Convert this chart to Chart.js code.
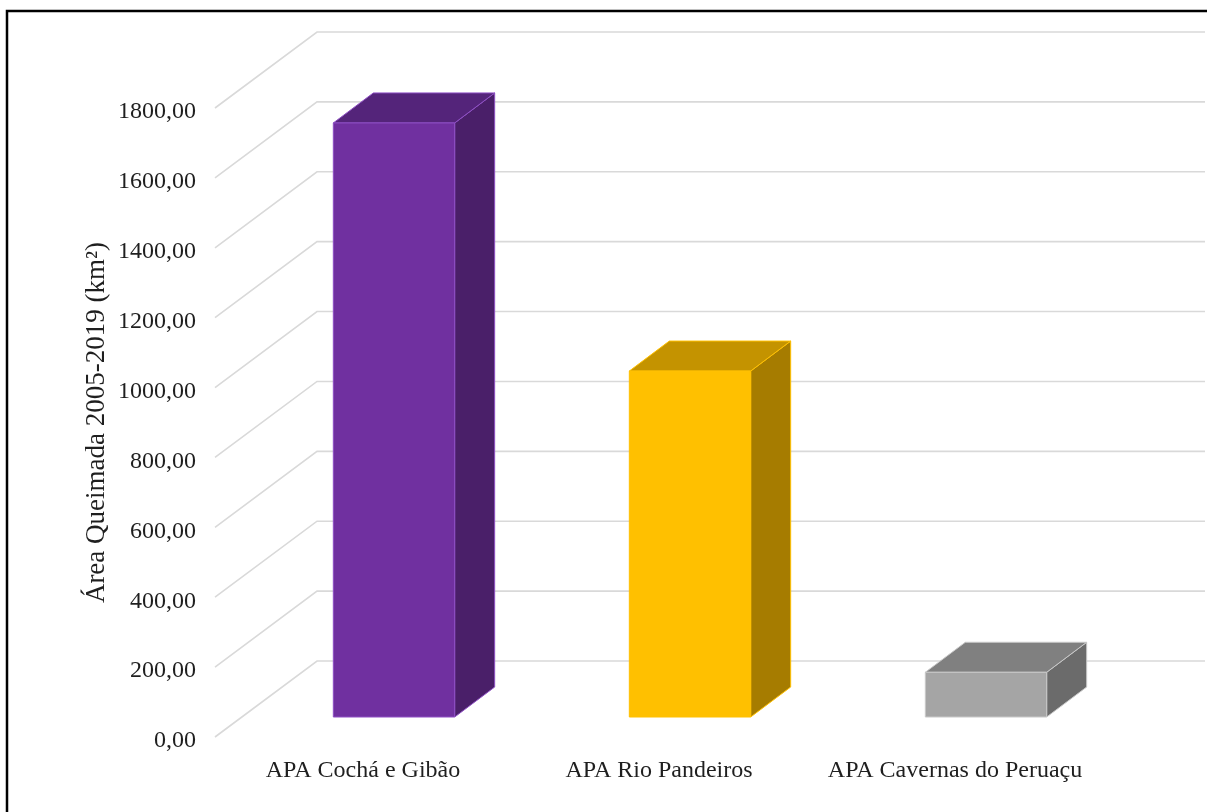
<!DOCTYPE html>
<html>
<head>
<meta charset="utf-8">
<script src="https://cdn.jsdelivr.net/npm/chart.js@4/dist/chart.umd.min.js"></script>
<style>
  body { margin: 0; background: #fff; }
  #wrap { width: 1207px; height: 812px; }
</style>
</head>
<body>
<div id="wrap"><canvas id="myChart" width="1207" height="812"></canvas></div>
<script>
// data
var categories = ['APA Cochá e Gibão', 'APA Rio Pandeiros', 'APA Cavernas do Peruaçu'];
var burnedArea = [1700, 990, 128];
var yTicks = [0, 200, 400, 600, 800, 1000, 1200, 1400, 1600, 1800];

// bar colours (front / top / side)
var frontColors = ['#7030A0', '#FFC000', '#A5A5A5'];
var topColors = ['#54247A', '#C49300', '#808080'];
var sideColors = ['#4A1F69', '#A67C00', '#6B6B6B'];
var edgeColors = ['#8E4FC4', '#FFC000', '#C8C8C8'];

// perspective of the 3d box
var DEPTH_X = 102, DEPTH_Y = -76;   // back wall offset
var FRONT_X = 31, FRONT_Y = -20;    // bar front face offset
var BAR_X = 40, BAR_Y = -30;        // bar depth

var frame = {
  id: 'frame',
  afterDraw: function (chart) {
    var ctx = chart.ctx;
    ctx.save();
    ctx.strokeStyle = '#000';
    ctx.lineWidth = 2.5;
    ctx.strokeRect(7, 11, 1230, 830);
    ctx.restore();
  }
};

var box3d = {
  id: 'box3d',
  beforeDatasetsDraw: function (chart) {
    var ctx = chart.ctx;
    var area = chart.chartArea;
    var y = chart.scales.y;
    ctx.save();

    // grid lines: floor diagonal + back wall
    ctx.strokeStyle = '#D9D9D9';
    ctx.lineWidth = 1.6;
    yTicks.forEach(function (v) {
      var py = y.getPixelForValue(v);
      ctx.beginPath();
      ctx.moveTo(area.left, py);
      ctx.lineTo(area.left + DEPTH_X, py + DEPTH_Y);
      ctx.lineTo(area.right + DEPTH_X, py + DEPTH_Y);
      ctx.stroke();
    });

    // 3d bars
    var meta = chart.getDatasetMeta(0);
    meta.data.forEach(function (bar, i) {
      var p = bar.getProps(['x', 'y', 'base', 'width'], true);
      var l = p.x - p.width / 2 + FRONT_X;
      var r = p.x + p.width / 2 + FRONT_X;
      var t = p.y + FRONT_Y;
      var b = p.base + FRONT_Y;

      ctx.lineJoin = 'round';
      ctx.lineWidth = 1;
      ctx.strokeStyle = edgeColors[i];

      // side
      ctx.fillStyle = sideColors[i];
      ctx.beginPath();
      ctx.moveTo(r, t);
      ctx.lineTo(r + BAR_X, t + BAR_Y);
      ctx.lineTo(r + BAR_X, b + BAR_Y);
      ctx.lineTo(r, b);
      ctx.closePath();
      ctx.fill();
      ctx.stroke();

      // top
      ctx.fillStyle = topColors[i];
      ctx.beginPath();
      ctx.moveTo(l, t);
      ctx.lineTo(l + BAR_X, t + BAR_Y);
      ctx.lineTo(r + BAR_X, t + BAR_Y);
      ctx.lineTo(r, t);
      ctx.closePath();
      ctx.fill();
      ctx.stroke();

      // front
      ctx.fillStyle = frontColors[i];
      ctx.fillRect(l, t, r - l, b - t);
      ctx.strokeRect(l, t, r - l, b - t);
    });

    ctx.restore();
    return false;
  }
};

var ctx = document.getElementById('myChart').getContext('2d');
var myChart = new Chart(ctx, {
  type: 'bar',
  data: {
    labels: categories,
    datasets: [
      {
        data: burnedArea,
        backgroundColor: frontColors,
        barPercentage: 0.41,
        categoryPercentage: 1,
      },
    ],
  },
  options: {
    responsive: false,
    animation: false,
    layout: { padding: { left: 81, top: 108, right: 104, bottom: 0 } },
    plugins: {
      legend: { display: false },
      tooltip: { enabled: false },
    },
    scales: {
      x: {
        grid: { display: false, drawTicks: false },
        border: { display: false },
        ticks: {
          color: '#1F1F1F',
          padding: 19,
          font: { size: 24, family: 'Liberation Serif' },
        },
        afterFit: function (scale) {
          scale.height = 75;
        },
      },
      y: {
        min: 0,
        max: 1800,
        grid: { display: false, drawTicks: false },
        border: { display: false },
        ticks: {
          stepSize: 200,
          padding: 19,
          labelOffset: 4,
          color: '#1F1F1F',
          font: { size: 24, family: 'Liberation Serif' },
          callback: function (value) {
            return value.toFixed(2).replace('.', ',');
          },
        },
        title: {
          display: true,
          text: 'Área Queimada 2005-2019 (km²)',
          color: '#1F1F1F',
          padding: 0,
          font: { size: 27, family: 'Liberation Serif' },
        },
        afterFit: function (scale) {
          scale.width = 134;
        },
      },
    },
  },
  plugins: [box3d, frame],
});
</script>
</body>
</html>
